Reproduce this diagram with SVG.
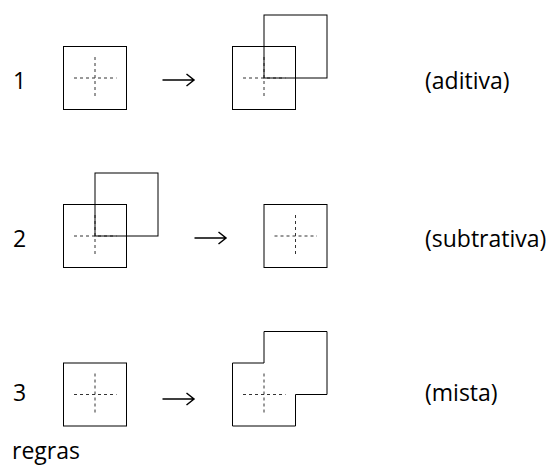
<svg xmlns="http://www.w3.org/2000/svg" width="552" height="467" viewBox="0 0 552 467">
  <style>
    .sq { fill: none; stroke: #000; stroke-width: 1; }
    .axis { fill: none; stroke: #333; stroke-width: 1; stroke-dasharray: 3 3; }
    .arrow { fill: none; stroke: #000; stroke-width: 1.5; }
    .lbl { font-family: "Open Sans", "Liberation Sans", sans-serif; font-size: 23px; fill: #000; }
  </style>
  <defs>
    <!-- square with its dashed centre cross, 63 units wide -->
    <g id="base">
      <rect class="sq" x="0" y="0" width="63" height="63"/>
      <line class="axis" x1="10.5" y1="31.5" x2="53" y2="31.5"/>
      <line class="axis" x1="31.5" y1="10.5" x2="31.5" y2="52.5"/>
    </g>
    <path id="arr" class="arrow" d="M0 0 H31 M24 -6 L31.5 0 L24 6"/>
  </defs>

  <!-- rule 1: additive -->
  <g id="rule1">
    <text class="lbl" x="13" y="89">1</text>
    <use href="#base" x="63.5" y="46.5"/>
    <use href="#arr" x="162.5" y="80"/>
    <use href="#base" x="232.5" y="46.5"/>
    <rect class="sq" x="264" y="15" width="63" height="63"/>
    <text class="lbl" x="425" y="89">(aditiva)</text>
  </g>

  <!-- rule 2: subtractive -->
  <g id="rule2">
    <text class="lbl" x="13" y="247">2</text>
    <use href="#base" x="63.5" y="204.5"/>
    <rect class="sq" x="95" y="173" width="63" height="63"/>
    <use href="#arr" x="194.5" y="238"/>
    <use href="#base" x="264" y="204.5"/>
    <text class="lbl" x="425" y="247">(subtrativa)</text>
  </g>

  <!-- rule 3: mixed -->
  <g id="rule3">
    <text class="lbl" x="13" y="401">3</text>
    <use href="#base" x="63.5" y="363"/>
    <use href="#arr" x="162.5" y="399"/>
    <path class="sq" d="M232.5 363 H264 V331.5 H327 V394.5 H295.5 V426 H232.5 Z"/>
    <line class="axis" x1="243" y1="394.5" x2="285.5" y2="394.5"/>
    <line class="axis" x1="264" y1="373.5" x2="264" y2="415.5"/>
    <text class="lbl" x="425" y="401">(mista)</text>
  </g>

  <text id="caption" class="lbl" x="12" y="459">regras</text>
</svg>
